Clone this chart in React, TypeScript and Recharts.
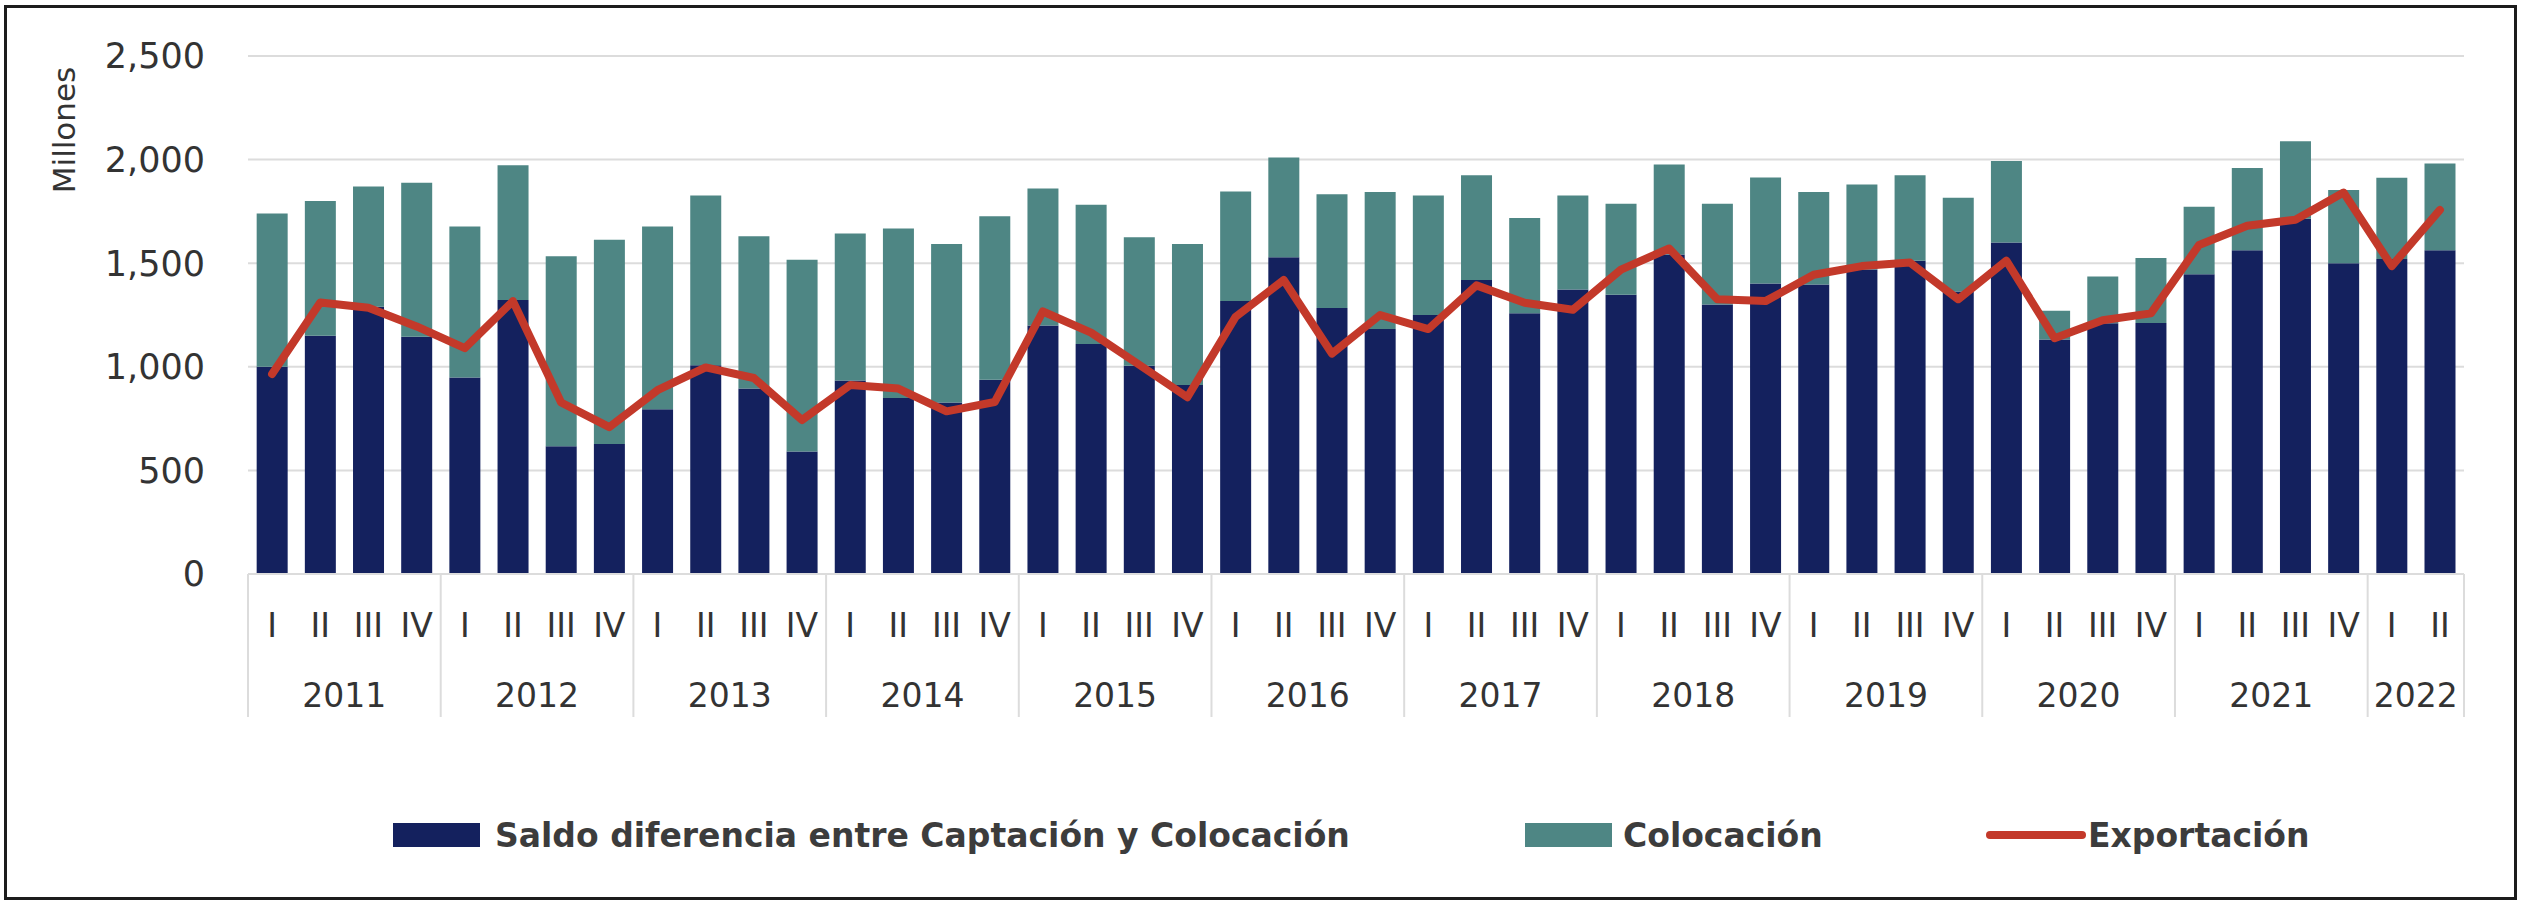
import React from 'react';
import { ComposedChart, Bar, Line, XAxis, YAxis, CartesianGrid, Legend } from 'recharts';

// ---------- data ----------
const quarterLabels = [
  'I', 'II', 'III', 'IV', 'I', 'II', 'III', 'IV', 'I', 'II', 'III', 'IV',
  'I', 'II', 'III', 'IV', 'I', 'II', 'III', 'IV', 'I', 'II', 'III', 'IV',
  'I', 'II', 'III', 'IV', 'I', 'II', 'III', 'IV', 'I', 'II', 'III', 'IV',
  'I', 'II', 'III', 'IV', 'I', 'II', 'III', 'IV', 'I', 'II',
];
const yearLabels = [
  '2011', '2011', '2011', '2011', '2012', '2012', '2012', '2012',
  '2013', '2013', '2013', '2013', '2014', '2014', '2014', '2014',
  '2015', '2015', '2015', '2015', '2016', '2016', '2016', '2016',
  '2017', '2017', '2017', '2017', '2018', '2018', '2018', '2018',
  '2019', '2019', '2019', '2019', '2020', '2020', '2020', '2020',
  '2021', '2021', '2021', '2021', '2022', '2022',
];
const saldo = [
  1000, 1150, 1290, 1145, 948, 1322, 616, 628, 795, 1008, 895, 591,
  934, 850, 828, 937, 1199, 1110, 1005, 912, 1317, 1529, 1284, 1182,
  1250, 1419, 1258, 1373, 1348, 1542, 1301, 1402, 1397, 1469, 1512, 1363,
  1600, 1132, 1210, 1211, 1447, 1562, 1714, 1500, 1520, 1562,
];
const colocacion = [
  740, 650, 580, 743, 729, 651, 918, 985, 882, 819, 735, 926,
  709, 817, 765, 789, 662, 672, 620, 681, 529, 481, 549, 662,
  577, 506, 460, 454, 439, 434, 486, 512, 447, 411, 413, 453,
  393, 138, 226, 314, 326, 397, 375, 353, 392, 419,
];
const exportacion = [
  965, 1310, 1285, 1195, 1090, 1317, 828, 709, 887, 997, 946, 743,
  912, 895, 785, 830, 1267, 1165, 1010, 853, 1241, 1419, 1064, 1250,
  1182, 1393, 1309, 1275, 1469, 1571, 1326, 1317, 1444, 1486, 1503, 1326,
  1512, 1138, 1225, 1258, 1588, 1681, 1710, 1841, 1486, 1757,
];
const yTicks = [0, 500, 1000, 1500, 2000, 2500];

const seriesNames = {
  saldo: 'Saldo diferencia entre Captación y Colocación',
  colocacion: 'Colocación',
  exportacion: 'Exportación',
};

const data = quarterLabels.map((q, i) => ({
  q,
  year: yearLabels[i],
  saldo: saldo[i],
  colocacion: colocacion[i],
  exportacion: exportacion[i],
}));

// ---------- styling / layout ----------
const W = 2526;
const H = 908;
const NAVY = '#14215e';
const TEAL = '#4e8684';
const RED = '#c3392a';
const TEXT = '#333333';
const GRID = '#dcdcdc';
const FONT = "'DejaVu Sans', sans-serif";

const MARGIN = { top: 56, right: 62, left: 0, bottom: 48 };
const Y_AXIS_W = 248;
const Q_AXIS_H = 70;
const YR_AXIS_H = 166;
const X_TICK_MARGIN = 40;
const SEP_LEN = 143;
const LEGEND_H = 50;
const FALLBACK_OFFSET = (W - Y_AXIS_W - MARGIN.right) / quarterLabels.length / 2;

function groupOf(i: number) {
  const y = yearLabels[i];
  let start = i;
  while (start > 0 && yearLabels[start - 1] === y) start--;
  let end = i;
  while (end < yearLabels.length - 1 && yearLabels[end + 1] === y) end++;
  return { start, end, size: end - start + 1 };
}

const QuarterTick = (props: any) => {
  const { x, y, payload } = props;
  const idx = payload?.index ?? props.index ?? 0;
  const offset = payload?.offset ?? FALLBACK_OFFSET;
  const baseY = y - X_TICK_MARGIN;
  const g = groupOf(idx);
  return (
    <g>
      {g.start === idx && (
        <line x1={x - offset} x2={x - offset} y1={baseY} y2={baseY + SEP_LEN} stroke={GRID} strokeWidth={2} />
      )}
      {idx === yearLabels.length - 1 && (
        <line x1={x + offset} x2={x + offset} y1={baseY} y2={baseY + SEP_LEN} stroke={GRID} strokeWidth={2} />
      )}
      <text x={x} y={y} dy="0.71em" textAnchor="middle" fontSize={33} fill={TEXT} fontFamily={FONT}>
        {payload.value}
      </text>
    </g>
  );
};

const YearTick = (props: any) => {
  const { x, y, payload } = props;
  const idx = payload?.index ?? props.index ?? 0;
  const offset = payload?.offset ?? FALLBACK_OFFSET;
  const g = groupOf(idx);
  if (g.start !== idx) return <g />;
  return (
    <text x={x + (g.size - 1) * offset} y={y} dy="0.71em" textAnchor="middle" fontSize={33} fill={TEXT} fontFamily={FONT}>
      {payload.value}
    </text>
  );
};

const MillonesLabel = () => (
  <text
    x={64}
    y={130}
    transform="rotate(-90 64 130)"
    textAnchor="middle"
    dominantBaseline="central"
    fontSize={31}
    fill={TEXT}
    fontFamily={FONT}
  >
    Millones
  </text>
);

const legendItems = [
  { key: 'saldo', kind: 'rect', color: NAVY, width: 1132, gap: 15 },
  { key: 'colocacion', kind: 'rect', color: TEAL, width: 461, gap: 11 },
  { key: 'exportacion', kind: 'line', color: RED, width: 440, gap: 2 },
];

const LegendContent = () => (
  <div
    style={{
      display: 'flex',
      alignItems: 'center',
      height: LEGEND_H,
      width: W,
      paddingLeft: 393,
      boxSizing: 'border-box',
      fontFamily: FONT,
      fontWeight: 'bold',
      fontSize: 33,
      lineHeight: 1,
      color: '#3c3c3c',
      whiteSpace: 'nowrap',
    }}
  >
    {legendItems.map((it) => (
      <div key={it.key} style={{ width: it.width, display: 'flex', alignItems: 'center', flex: 'none' }}>
        {it.kind === 'rect' ? (
          <span style={{ display: 'inline-block', width: 87, height: 24, background: it.color, marginRight: it.gap }} />
        ) : (
          <span
            style={{
              display: 'inline-block',
              width: 100,
              height: 8,
              borderRadius: 4,
              background: it.color,
              marginRight: it.gap,
            }}
          />
        )}
        <span>{(seriesNames as any)[it.key]}</span>
      </div>
    ))}
  </div>
);

export default function App() {
  return (
    <div style={{ position: 'absolute', left: 0, top: 0, width: W, height: H, background: '#ffffff', overflow: 'hidden' }}>
      <div style={{ position: 'absolute', left: 0, top: 0 }}>
        <ComposedChart width={W} height={H} data={data} margin={MARGIN} barCategoryGap="18%">
          <CartesianGrid vertical={false} stroke={GRID} strokeWidth={2} />
          <XAxis
            dataKey="q"
            interval={0}
            tickLine={false}
            tickSize={0}
            tickMargin={X_TICK_MARGIN}
            height={Q_AXIS_H}
            axisLine={{ stroke: GRID, strokeWidth: 2 }}
            tick={<QuarterTick />}
          />
          <XAxis
            xAxisId="year"
            dataKey="year"
            interval={0}
            tickLine={false}
            tickSize={0}
            tickMargin={X_TICK_MARGIN}
            height={YR_AXIS_H}
            axisLine={false}
            tick={<YearTick />}
          />
          <YAxis
            width={Y_AXIS_W}
            domain={[0, 2500]}
            ticks={yTicks}
            interval={0}
            tickFormatter={(v: number) => v.toLocaleString('en-US')}
            axisLine={false}
            tickLine={false}
            tickSize={0}
            tickMargin={43}
            tick={{ fontSize: 35, fill: TEXT, fontFamily: FONT }}
            label={<MillonesLabel />}
          />
          <Legend verticalAlign="bottom" content={<LegendContent />} wrapperStyle={{ left: 0, width: W }} />
          <Bar dataKey="saldo" name={seriesNames.saldo} stackId="a" fill={NAVY} isAnimationActive={false} />
          <Bar dataKey="colocacion" name={seriesNames.colocacion} stackId="a" fill={TEAL} isAnimationActive={false} />
          <Line
            dataKey="exportacion"
            name={seriesNames.exportacion}
            type="linear"
            stroke={RED}
            strokeWidth={8}
            strokeLinejoin="round"
            strokeLinecap="round"
            dot={false}
            activeDot={false}
            isAnimationActive={false}
          />
        </ComposedChart>
      </div>
      <div
        style={{
          position: 'absolute',
          left: 4,
          top: 5,
          width: 2513,
          height: 895,
          border: '3px solid #1c1c1c',
          boxSizing: 'border-box',
          pointerEvents: 'none',
        }}
      />
    </div>
  );
}
